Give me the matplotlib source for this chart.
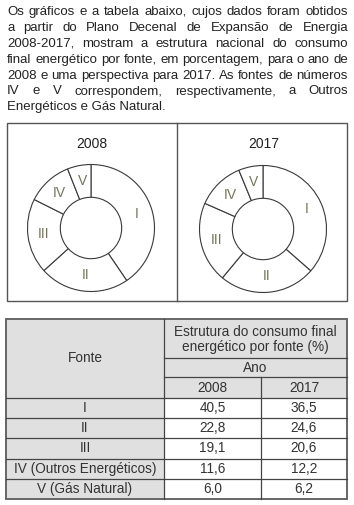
import numpy as np
import matplotlib
matplotlib.use('Agg')
import matplotlib.pyplot as plt
from matplotlib.patches import Rectangle

plt.rcParams['font.family'] = ['Liberation Sans', 'DejaVu Sans']

# dados
fontes = ['I', 'II', 'III', 'IV', 'V']
linhas_tabela = ['I', 'II', 'III', 'IV (Outros Energéticos)', 'V (Gás Natural)']
anos = ['2008', '2017']
valores_2008 = [40.5, 22.8, 19.1, 11.6, 6.0]
valores_2017 = [36.5, 24.6, 20.6, 12.2, 6.2]

texto = [
    'Os gráficos e a tabela abaixo, cujos dados foram obtidos',
    'a partir do Plano Decenal de Expansão de Energia',
    '2008-2017, mostram a estrutura nacional do consumo',
    'final energético por fonte, em porcentagem, para o ano de',
    '2008 e uma perspectiva para 2017. As fontes de números',
    'IV e V correspondem, respectivamente, a Outros',
    'Energéticos e Gás Natural.',
]

W, H = 354, 505
fig = plt.figure(figsize=(W / 100, H / 100), dpi=100)
ax = fig.add_axes([0, 0, 1, 1])
ax.set_xlim(0, W)
ax.set_ylim(H, 0)
ax.axis('off')

# texto justificado
renderer = fig.canvas.get_renderer()
cor_texto = '#222222'
fs_texto = 9.5
for i, linha in enumerate(texto):
    y = 15 + 15.9 * i
    if i == len(texto) - 1:
        ax.text(7, y, linha, fontsize=fs_texto, va='baseline', color=cor_texto)
        continue
    palavras = linha.split()
    objs = [ax.text(0, y, p, fontsize=fs_texto, va='baseline', color=cor_texto) for p in palavras]
    larguras = [o.get_window_extent(renderer).width for o in objs]
    gap = (348 - 7 - sum(larguras)) / (len(palavras) - 1)
    x = 7
    for o, w in zip(objs, larguras):
        o.set_x(x)
        x += w + gap

# caixa dos graficos
ax.add_patch(Rectangle((7, 123), 340, 178, fill=False, edgecolor='#555555', lw=1.0))
ax.plot([177, 177], [123, 301], color='#555555', lw=1.0)

R_ext, R_int = 63.5, 30.7


def donut(cx, cy, valores, ano):
    pad = 4
    ax_p = fig.add_axes([(cx - R_ext - pad) / W, 1 - (cy + R_ext + pad) / H,
                         2 * (R_ext + pad) / W, 2 * (R_ext + pad) / H])
    wedges, _ = ax_p.pie(valores, startangle=90, counterclock=False, radius=1,
                         wedgeprops=dict(width=(R_ext - R_int) / R_ext, facecolor='white',
                                         edgecolor='#3a3a3a', linewidth=0.8))
    lim = (R_ext + pad) / R_ext
    ax_p.set_xlim(-lim, lim)
    ax_p.set_ylim(-lim, lim)
    ax_p.set_aspect('equal')
    ax_p.axis('off')
    r_mid = 47.5 / R_ext
    for w, nome in zip(wedges, fontes):
        ang = np.deg2rad((w.theta1 + w.theta2) / 2)
        ax_p.text(r_mid * np.cos(ang), r_mid * np.sin(ang), nome, ha='center', va='center',
                  fontsize=10, color='#74745a')
    ax.text(cx + 1, 143.5, ano, ha='center', va='center', fontsize=10, color=cor_texto)


donut(91, 228, valores_2008, anos[0])
donut(263, 229, valores_2017, anos[1])

# tabela
x0, x1, x2, x3 = 6, 164, 261, 347
yh = [319, 358, 377, 398]
y_fim = 499
alt = (y_fim - yh[3]) / len(linhas_tabela)
cinza = '#e0e0e0'
cor_linha = '#444444'
cor_tab = '#333333'
fs_tab = 9.8

ax.add_patch(Rectangle((x0, yh[0]), x3 - x0, yh[3] - yh[0], facecolor=cinza, edgecolor='none'))
ax.add_patch(Rectangle((x0, yh[3]), x1 - x0, y_fim - yh[3], facecolor=cinza, edgecolor='none'))

ax.plot([x1, x3], [yh[1], yh[1]], color=cor_linha, lw=0.9)
ax.plot([x1, x3], [yh[2], yh[2]], color=cor_linha, lw=0.9)
for k in range(len(linhas_tabela)):
    yy = yh[3] + k * alt
    ax.plot([x0, x3], [yy, yy], color=cor_linha, lw=0.9)
ax.plot([x1, x1], [yh[0], y_fim], color=cor_linha, lw=0.9)
ax.plot([x2, x2], [yh[2], y_fim], color=cor_linha, lw=0.9)
ax.add_patch(Rectangle((x0, yh[0]), x3 - x0, y_fim - yh[0], fill=False, edgecolor='#666666', lw=1.4))

ax.text((x0 + x1) / 2, (yh[0] + yh[3]) / 2, 'Fonte', ha='center', va='center', fontsize=fs_tab, color=cor_tab)
ax.text((x1 + x3) / 2, 331.5, 'Estrutura do consumo final', ha='center', va='center', fontsize=fs_tab, color=cor_tab)
ax.text((x1 + x3) / 2, 346.5, 'energético por fonte (%)', ha='center', va='center', fontsize=fs_tab, color=cor_tab)
ax.text((x1 + x3) / 2, (yh[1] + yh[2]) / 2, 'Ano', ha='center', va='center', fontsize=fs_tab, color=cor_tab)
ax.text((x1 + x2) / 2, (yh[2] + yh[3]) / 2, anos[0], ha='center', va='center', fontsize=fs_tab, color=cor_tab)
ax.text((x2 + x3) / 2, (yh[2] + yh[3]) / 2, anos[1], ha='center', va='center', fontsize=fs_tab, color=cor_tab)

for k, (nome, v1, v2) in enumerate(zip(linhas_tabela, valores_2008, valores_2017)):
    yc = yh[3] + (k + 0.5) * alt
    ax.text((x0 + x1) / 2, yc, nome, ha='center', va='center', fontsize=fs_tab, color=cor_tab)
    ax.text((x1 + x2) / 2, yc, f'{v1:.1f}'.replace('.', ','), ha='center', va='center', fontsize=fs_tab, color=cor_tab)
    ax.text((x2 + x3) / 2, yc, f'{v2:.1f}'.replace('.', ','), ha='center', va='center', fontsize=fs_tab, color=cor_tab)

fig.savefig('out.png', dpi=100)
